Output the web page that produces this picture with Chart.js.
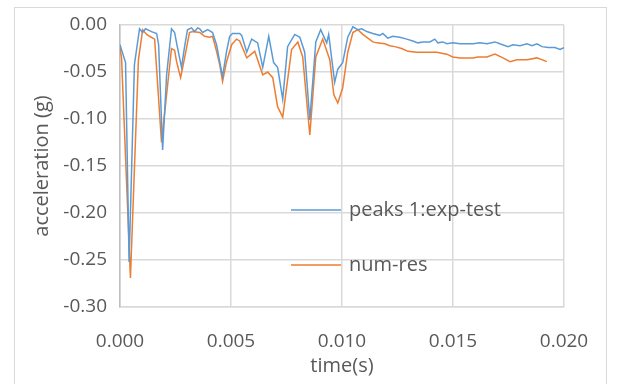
<!DOCTYPE html>
<html>
<head>
<meta charset="utf-8">
<title>acceleration</title>
<script src="https://cdn.jsdelivr.net/npm/chart.js@4.4.0/dist/chart.umd.min.js"></script>
<style>
  body { margin: 0; background: #fff; }
  #wrap { position: relative; width: 621px; height: 384px; }
</style>
</head>
<body>
<div id="wrap"><canvas id="accChart" width="621" height="384"></canvas></div>
<script>
// measured series (time in s, acceleration in g)
const expTime = [
  0, 0.00025, 0.00041, 0.00065, 0.00088, 0.00102, 0.00115, 0.00142, 0.00165, 0.00174,
  0.00192, 0.00210, 0.00232, 0.00246, 0.00259, 0.00277, 0.00291, 0.00304, 0.00322, 0.00336,
  0.00350, 0.00359, 0.00372, 0.00395, 0.00417, 0.00435, 0.00449, 0.00462, 0.00480, 0.00494,
  0.00507, 0.00539, 0.00548, 0.00571, 0.00593, 0.00620, 0.00643, 0.00670, 0.00692, 0.00710,
  0.00733, 0.00755, 0.00787, 0.00810, 0.00832, 0.00855, 0.00882, 0.00904, 0.00931, 0.00940,
  0.00967, 0.00981, 0.01003, 0.01026, 0.01049, 0.01071, 0.01089, 0.01112, 0.01139, 0.01170,
  0.01184, 0.01206, 0.01229, 0.01260, 0.01292, 0.01319, 0.01342, 0.01364, 0.01396, 0.01418,
  0.01432, 0.01454, 0.01472, 0.01499, 0.01531, 0.01590, 0.01621, 0.01653, 0.01689, 0.01711,
  0.01748, 0.01770, 0.01802, 0.01833, 0.01856, 0.01878, 0.01901, 0.01928, 0.01959, 0.01982,
  0.02000
];
const expAcc = [
  -0.021, -0.040, -0.252, -0.042, -0.004, -0.008, -0.004, -0.007, -0.009, -0.021,
  -0.133, -0.053, -0.004, -0.008, -0.024, -0.045, -0.023, -0.005, -0.003, -0.007,
  -0.003, -0.004, -0.008, -0.005, -0.008, -0.021, -0.039, -0.055, -0.028, -0.012,
  -0.009, -0.009, -0.011, -0.029, -0.015, -0.019, -0.045, -0.012, -0.040, -0.045,
  -0.079, -0.023, -0.010, -0.013, -0.029, -0.101, -0.018, -0.005, -0.019, -0.010,
  -0.061, -0.047, -0.040, -0.013, -0.002, -0.005, -0.004, -0.007, -0.009, -0.011,
  -0.009, -0.014, -0.012, -0.013, -0.015, -0.017, -0.019, -0.018, -0.018, -0.015,
  -0.019, -0.018, -0.020, -0.019, -0.020, -0.020, -0.019, -0.020, -0.018, -0.020,
  -0.023, -0.021, -0.022, -0.020, -0.022, -0.020, -0.023, -0.024, -0.024, -0.026,
  -0.024
];

const numTime = [
  0, 0.00007, 0.00047, 0.00083, 0.00102, 0.00120, 0.00133, 0.00156, 0.00187, 0.00232,
  0.00246, 0.00255, 0.00273, 0.00291, 0.00313, 0.00327, 0.00359, 0.00381, 0.00404, 0.00417,
  0.00435, 0.00449, 0.00462, 0.00480, 0.00503, 0.00525, 0.00539, 0.00571, 0.00607, 0.00643,
  0.00665, 0.00688, 0.00710, 0.00733, 0.00773, 0.00801, 0.00823, 0.00855, 0.00882, 0.00913,
  0.00945, 0.00963, 0.00981, 0.01003, 0.01026, 0.01049, 0.01071, 0.01094, 0.01139, 0.01157,
  0.01193, 0.01215, 0.01238, 0.01269, 0.01297, 0.01337, 0.01364, 0.01427, 0.01472, 0.01499,
  0.01531, 0.01590, 0.01612, 0.01653, 0.01689, 0.01725, 0.01757, 0.01788, 0.01833, 0.01878,
  0.01923
];
const numAcc = [
  -0.024, -0.035, -0.269, -0.037, -0.005, -0.010, -0.012, -0.015, -0.125, -0.025,
  -0.027, -0.039, -0.056, -0.035, -0.008, -0.007, -0.008, -0.012, -0.013, -0.012,
  -0.028, -0.042, -0.060, -0.039, -0.021, -0.015, -0.017, -0.035, -0.028, -0.053,
  -0.050, -0.056, -0.087, -0.098, -0.026, -0.018, -0.034, -0.117, -0.034, -0.015,
  -0.037, -0.074, -0.083, -0.067, -0.029, -0.008, -0.005, -0.010, -0.018, -0.019,
  -0.020, -0.022, -0.023, -0.025, -0.028, -0.029, -0.029, -0.029, -0.031, -0.034,
  -0.035, -0.035, -0.034, -0.034, -0.031, -0.035, -0.039, -0.037, -0.037, -0.035,
  -0.039
];

const seriesNames = ["peaks 1:exp-test", "num-res"];
const xTicks = { min: 0, max: 0.02, step: 0.005 };
const yTicks = { min: -0.3, max: 0, step: 0.05 };

const textColor = "#595959";
const gridColor = "#d9d9d9";
const fontFamily = "'Open Sans', 'Liberation Sans', sans-serif";

function toPoints(xs, ys) {
    return xs.map((x, i) => ({ x: x, y: ys[i] }));
}

// legend drawn inside the plot, the way the original has it
const insideLegend = {
    id: "insideLegend",
    afterDatasetsDraw(chart) {
        const ctx = chart.ctx;
        const rows = [210, 265];
        ctx.save();
        ctx.font = "20px " + fontFamily;
        ctx.textBaseline = "middle";
        ctx.textAlign = "left";
        chart.data.datasets.forEach((ds, i) => {
            const y = rows[i];
            ctx.strokeStyle = ds.borderColor;
            ctx.lineWidth = 1.5;
            ctx.beginPath();
            ctx.moveTo(291, y);
            ctx.lineTo(341, y);
            ctx.stroke();
            ctx.fillStyle = textColor;
            ctx.fillText(ds.label, 349, y);
        });
        ctx.restore();
    }
};

const outerBorder = {
    id: "outerBorder",
    beforeDraw(chart) {
        const ctx = chart.ctx;
        ctx.save();
        ctx.strokeStyle = gridColor;
        ctx.lineWidth = 1;
        ctx.strokeRect(14.5, 7.5, 592, 400);
        ctx.restore();
    }
};

function renderChart() {
    const ctx = document.getElementById("accChart").getContext("2d");

    new Chart(ctx, {
        type: "line",
        data: {
            datasets: [{
                label: seriesNames[0],
                data: toPoints(expTime, expAcc),
                borderColor: "#5b9bd5",
                borderWidth: 1.5,
                pointRadius: 0,
                tension: 0,
                fill: false
            }, {
                label: seriesNames[1],
                data: toPoints(numTime, numAcc),
                borderColor: "#ed7d31",
                borderWidth: 1.5,
                pointRadius: 0,
                tension: 0,
                fill: false
            }]
        },
        options: {
            responsive: false,
            animation: false,
            layout: { padding: { top: 25, right: 57, left: 0, bottom: 0 } },
            plugins: {
                legend: { display: false },
                tooltip: { enabled: false }
            },
            scales: {
                x: {
                    type: "linear",
                    min: xTicks.min,
                    max: xTicks.max,
                    afterFit: s => { s.height = 77; },
                    ticks: {
                        stepSize: xTicks.step,
                        color: textColor,
                        font: { family: fontFamily, size: 19 },
                        padding: 23,
                        maxRotation: 0,
                        callback: v => v.toFixed(3)
                    },
                    grid: { color: gridColor, lineWidth: 1.5, drawTicks: false },
                    border: { color: gridColor, width: 1.5 },
                    title: {
                        display: true,
                        text: "time(s)",
                        color: textColor,
                        font: { family: fontFamily, size: 20 },
                        padding: { top: 0, bottom: 6 }
                    }
                },
                y: {
                    min: yTicks.min,
                    max: yTicks.max,
                    afterFit: s => { s.width = 120; },
                    ticks: {
                        stepSize: yTicks.step,
                        color: textColor,
                        font: { family: fontFamily, size: 19 },
                        padding: 13,
                        callback: v => v.toFixed(2)
                    },
                    grid: { color: gridColor, lineWidth: 1.5, drawTicks: false },
                    border: { color: "#bfbfbf", width: 1.5 },
                    title: {
                        display: true,
                        text: "acceleration (g)",
                        color: textColor,
                        font: { family: fontFamily, size: 20 },
                        padding: { top: 30, bottom: 0 }
                    }
                }
            }
        },
        plugins: [outerBorder, insideLegend]
    });
}

document.addEventListener("DOMContentLoaded", renderChart);
</script>
</body>
</html>
